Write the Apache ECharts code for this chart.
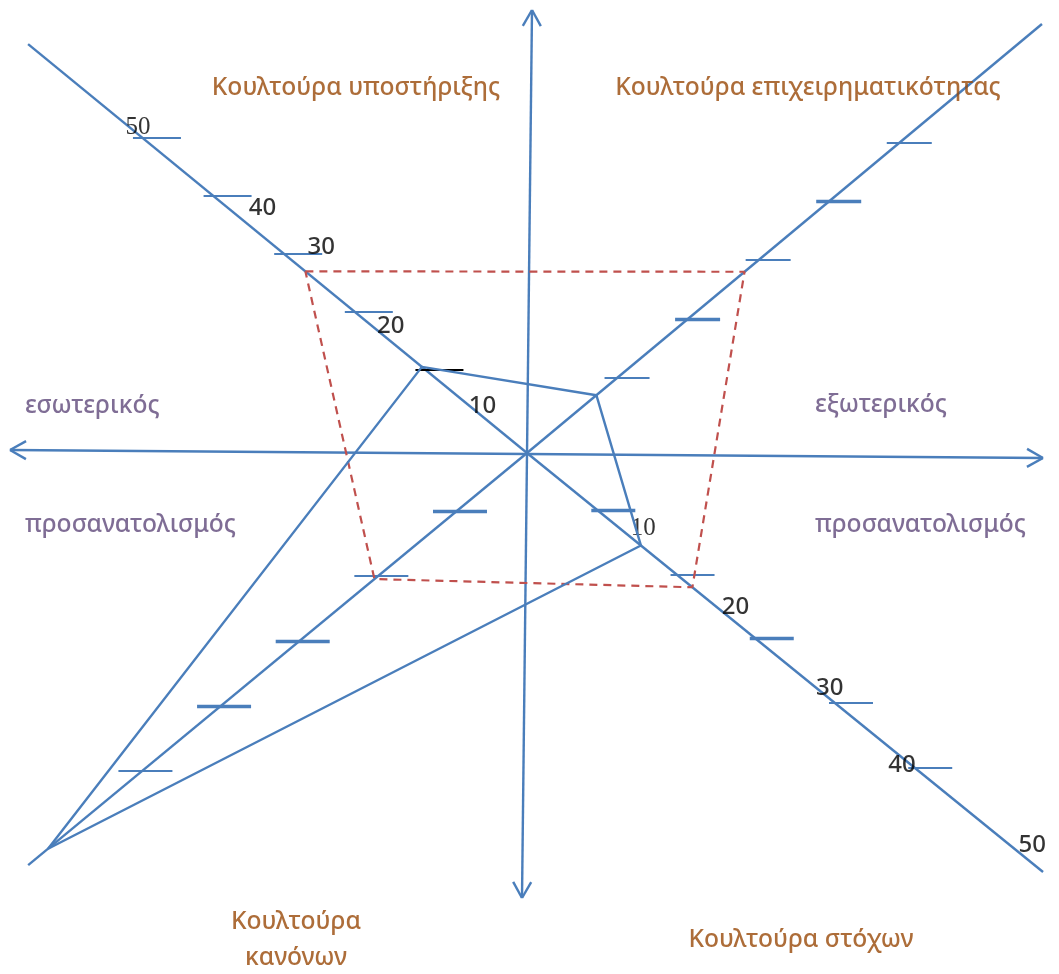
<!DOCTYPE html>
<html>
<head>
<meta charset="utf-8">
<title>Κουλτούρα</title>
<script src="https://cdn.jsdelivr.net/npm/echarts@6/dist/echarts.min.js"></script>
<style>
  html, body { margin: 0; padding: 0; background: #fff; }
  #main { width: 1059px; height: 974px; }
</style>
</head>
<body>
<div id="main"></div>
<script>
// diagonals, in order: upper left, upper right, lower right, lower left
const diagonals = ['Κουλτούρα υποστήριξης', 'Κουλτούρα επιχειρηματικότητας', 'Κουλτούρα στόχων', 'Κουλτούρα\nκανόνων']
const tickValues = [10, 20, 30, 40, 50]
const tickLabels = ['10', '20', '30', '40', '50']
// profiles
const profileBlue = [10.5, 7, 15.5, 62]
const profileRed = [27, 28, 22, 20.5]
const sideLabels = ['εσωτερικός', 'προσανατολισμός', 'εξωτερικός', 'προσανατολισμός']

// ---- layout (pixels) ----
const W = 1059, H = 974
const center = [527, 453]
// dir = unit vector on screen, position along = base + k * value, len = drawn length
const geo = [
  { dir: [-0.7735, -0.634], base: 40, k: 9.13, len: 645, tick: [-10, 38] },
  { dir: [0.7686, -0.6403], base: 26, k: 9.18, len: 670, tick: [-13, 32] },
  { dir: [0.776, 0.630], base: -11.5, k: 10.21, len: 665, tick: [-6, 38] },
  { dir: [-0.771, 0.637], base: -11.2, k: 10.2, len: 647, tick: [-24, 30] }
]
const tickWidth = [
  [1.8, 2.2, 2.2, 2.2, 2.2],
  [2.2, 3.4, 2.2, 3.4, 2.2],
  [3.4, 2.2, 3.4, 2.2, 2.2],
  [3.4, 2.2, 3.4, 3.4, 2.2]
]
// label nudges from the tick point (only upper left and lower right carry numbers)
const labelNudge = {
  0: [[57, 36], [36, 14], [37, -7], [49, 12], [-5, -11]],
  2: [[46, 18], [59, 33], [74, 49], [67, 62], [118, 78]]
}
const serifLabel = { 0: 4, 2: 0 }
const axisEnds = [[[10, 450], [1043, 458]], [[532, 10], [522, 898]]]
const titlePos = [[356, 88], [808, 88], [801, 940], [296, 940]]
const sidePos = [[25, 406], [25, 525], [815, 405], [815, 525]]

const BLUE = '#4A7EBB', RED = '#C0504D', BROWN = '#984807', PURPLE = '#5F497A'
const SANS = '"Noto Sans", "DejaVu Sans", sans-serif'

function pt(i, v) {
  const g = geo[i]
  const d = g.base + g.k * v
  return [center[0] + g.dir[0] * d, center[1] + g.dir[1] * d]
}

const segs = []
// axes with open arrow heads on both ends
axisEnds.forEach(([a, b]) => {
  segs.push({ coords: [a, b] })
  const dx = b[0] - a[0], dy = b[1] - a[1], l = Math.hypot(dx, dy)
  const u = [dx / l, dy / l], n = [-u[1], u[0]]
  ;[[b, 1], [a, -1]].forEach(([p, s]) => {
    const bx = p[0] - s * 16 * u[0], by = p[1] - s * 16 * u[1]
    segs.push({ coords: [p, [bx + 9 * n[0], by + 9 * n[1]]] })
    segs.push({ coords: [p, [bx - 9 * n[0], by - 9 * n[1]]] })
  })
})
// diagonals
geo.forEach(g => {
  segs.push({ coords: [center, [center[0] + g.dir[0] * g.len, center[1] + g.dir[1] * g.len]] })
})
// ticks
geo.forEach((g, i) => {
  tickValues.forEach((v, j) => {
    const p = pt(i, v)
    segs.push({
      coords: [[p[0] + g.tick[0], p[1]], [p[0] + g.tick[1], p[1]]],
      lineStyle: { width: tickWidth[i][j], color: (i === 0 && j === 0) ? '#000' : BLUE }
    })
  })
})

const texts = []
Object.keys(labelNudge).forEach(k => {
  const i = +k
  tickValues.forEach((v, j) => {
    const p = pt(i, v)
    const serif = serifLabel[i] === j
    texts.push({
      name: tickLabels[j],
      value: [p[0] + labelNudge[i][j][0], p[1] + labelNudge[i][j][1]],
      label: {
        fontFamily: serif ? '"Liberation Serif", serif' : SANS,
        fontSize: serif ? 25 : 24,
        color: '#000'
      }
    })
  })
})
diagonals.forEach((t, i) => {
  texts.push({
    name: t, value: titlePos[i],
    label: { fontFamily: SANS, fontSize: 24.6, color: BROWN, lineHeight: 36 }
  })
})
sideLabels.forEach((t, i) => {
  texts.push({
    name: t, value: sidePos[i],
    label: { fontFamily: SANS, fontSize: 24.6, color: PURPLE, align: 'left' }
  })
})

function closed(vals) {
  const pts = vals.map((v, i) => pt(i, v))
  pts.push(pts[0])
  return pts
}

const chart = echarts.init(document.getElementById('main'))
chart.setOption({
  animation: false,
  backgroundColor: '#fff',
  grid: { left: 0, right: 0, top: 0, bottom: 0 },
  xAxis: { type: 'value', min: 0, max: W, show: false },
  yAxis: { type: 'value', min: 0, max: H, inverse: true, show: false },
  series: [
    {
      type: 'lines',
      coordinateSystem: 'cartesian2d',
      silent: true,
      lineStyle: { color: BLUE, width: 2.4, opacity: 1, curveness: 0 },
      data: segs
    },
    {
      type: 'line',
      silent: true,
      symbol: 'none',
      lineStyle: { color: RED, width: 2.2, type: [8, 6] },
      data: closed(profileRed)
    },
    {
      type: 'line',
      silent: true,
      symbol: 'none',
      lineStyle: { color: BLUE, width: 2.4 },
      data: closed(profileBlue)
    },
    {
      type: 'scatter',
      silent: true,
      symbolSize: 1,
      itemStyle: { color: 'transparent' },
      label: {
        show: true,
        position: 'inside',
        align: 'center',
        verticalAlign: 'middle',
        fontWeight: 500,
        textBorderWidth: 0,
        formatter: p => p.name
      },
      data: texts
    }
  ]
})
</script>
</body>
</html>
